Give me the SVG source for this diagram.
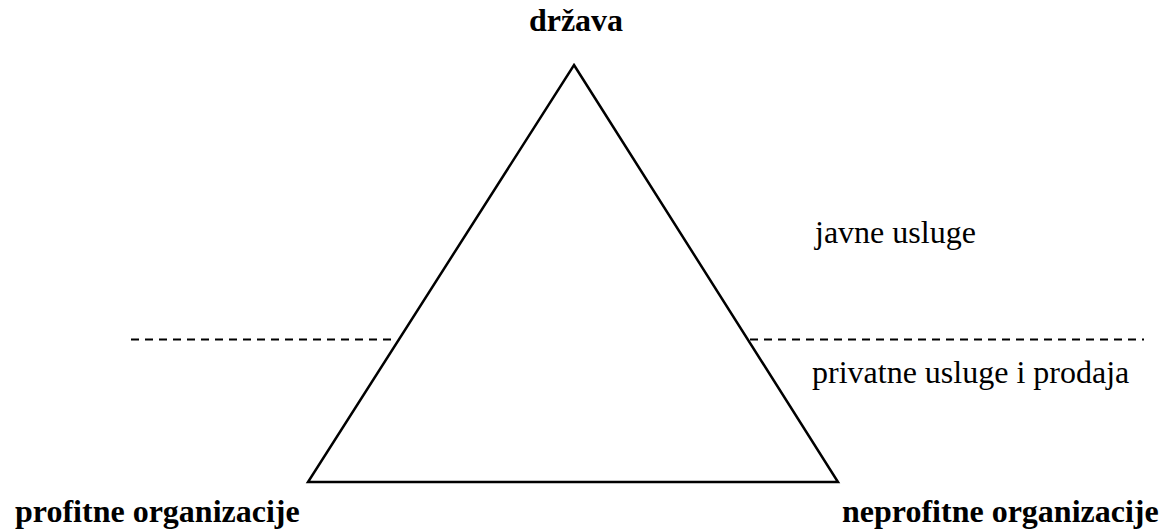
<svg xmlns="http://www.w3.org/2000/svg" width="1164" height="530" viewBox="0 0 1164 530">
<style>
.lbl{font-family:"Liberation Serif","Times New Roman",serif;font-size:32px;fill:#000}
.b{font-weight:bold}
.tri{fill:none;stroke:#000;stroke-width:2.5;stroke-linejoin:miter}
.dash{stroke:#000;stroke-width:2;stroke-dasharray:8 6;fill:none}
</style>
<rect width="1164" height="530" fill="#fff"/>
<g id="connectors">
<line class="dash" x1="131" y1="339.5" x2="394" y2="339.5"/>
<line class="dash" x1="750" y1="339.5" x2="1144" y2="339.5"/>
</g>
<g id="triangle"><polygon class="tri" points="574,65 838,482 308,482"/></g>
<g id="drzava"><text class="lbl b" x="576" y="31" text-anchor="middle">država</text></g>
<g id="javne"><text class="lbl" x="815" y="243">javne usluge</text></g>
<g id="privatne"><text class="lbl" x="812" y="383">privatne usluge i prodaja</text></g>
<g id="profitne"><text class="lbl b" x="15" y="522">profitne organizacije</text></g>
<g id="neprofitne"><text class="lbl b" x="842" y="522">neprofitne organizacije</text></g>
</svg>
